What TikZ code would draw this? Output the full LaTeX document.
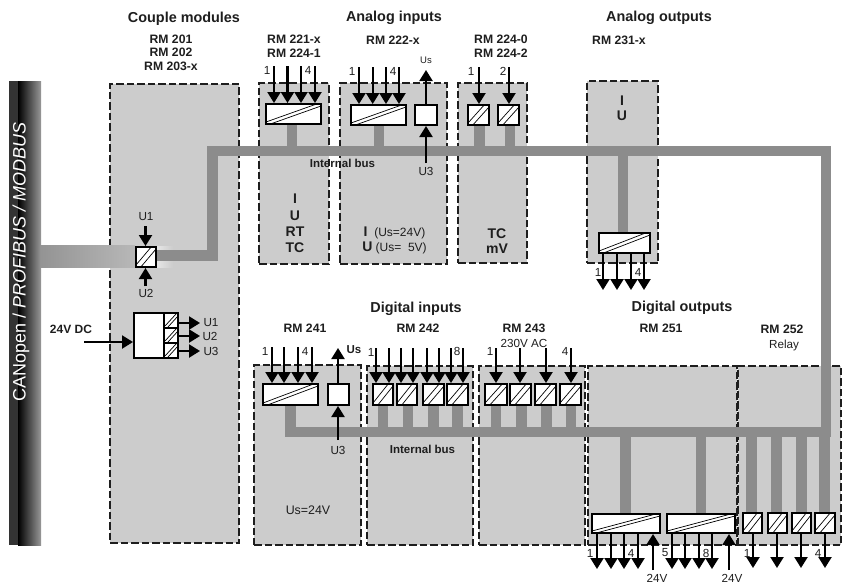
\documentclass[tikz,border=0pt]{standalone}
\usepackage{fontspec}
\setmainfont{Liberation Sans}
\usetikzlibrary{arrows.meta,calc}
\definecolor{panelgray}{HTML}{CCCCCC}
\definecolor{busgray}{HTML}{8C8C8C}
\definecolor{ink}{HTML}{1E1E1E}
\newcounter{lb}
\tikzset{
  x=1pt,y=-1pt,
  panelbox/.style={draw=ink,fill=panelgray,line width=1.1pt,dash pattern=on 7.5pt off 3pt,inner sep=0pt,outer sep=0pt},
  convbox/.style={draw=black,fill=white,line width=2.3pt,inner sep=0pt},
  diag/.style={draw=black,line width=.7pt},
  sig/.style={draw=black,line width=2.2pt,-{Triangle[width=13pt,length=11pt]}},
  busline/.style={draw=busgray,line width=10.5pt,line join=miter},
  stubline/.style={draw=busgray,line width=10.5pt},
  txt/.style={inner sep=0pt,text=ink,align=center,font=\fontsize{12}{14}\selectfont},
  head/.style={txt,font=\bfseries\fontsize{14.4}{16}\selectfont},
  rmtxt/.style={txt,font=\bfseries\fontsize{12.2}{14}\selectfont},
  kind/.style={txt,font=\bfseries\fontsize{14}{16}\selectfont},
  small/.style={txt,font=\fontsize{11.7}{14}\selectfont},
}
\newcommand\lab[4][small]{\stepcounter{lb}\node[#1] (lb\thelb) at (#2,#3) {#4};}
% panel: name x1 y1 x2 y2
\newcommand\panel[5]{\pgfmathsetmacro\pw{#4-#2}\pgfmathsetmacro\ph{#5-#3}%
  \node[panelbox,anchor=north west,minimum width=\pw pt,minimum height=\ph pt] (#1) at (#2,#3) {};}
% plain white box: name x1 y1 x2 y2
\newcommand\pbox[5]{\pgfmathsetmacro\pw{#4-#2-2.3}\pgfmathsetmacro\ph{#5-#3-2.3}%
  \pgfmathsetmacro\px{(#2+#4)/2}\pgfmathsetmacro\py{(#3+#5)/2}%
  \node[convbox,minimum width=\pw pt,minimum height=\ph pt] (#1) at (\px,\py) {};}
% converter box with the double diagonal
\newcommand\conv[5]{\pbox{#1}{#2}{#3}{#4}{#5}%
  \draw[diag] ([xshift=1pt,yshift=3pt]#1.south west) -- ([xshift=-6pt,yshift=-1.2pt]#1.north east);
  \draw[diag] ([xshift=6pt,yshift=1.2pt]#1.south west) -- ([xshift=-1pt,yshift=-3pt]#1.north east);}
% arrow into top of box: x ystart box
\newcommand\sigtop[3]{\stepcounter{lb}\coordinate (c\thelb) at (#1,#2);\draw[sig] (c\thelb) -- (c\thelb |- #3.north);}
\newcommand\sigbot[3]{\stepcounter{lb}\coordinate (c\thelb) at (#1,#2);\draw[sig] (c\thelb) -- (c\thelb |- #3.south);}
\newcommand\sigoutbot[3]{\stepcounter{lb}\coordinate (c\thelb) at (#1,#2);\draw[sig] (c\thelb |- #3.south) -- (c\thelb);}
\newcommand\sigouttop[3]{\stepcounter{lb}\coordinate (c\thelb) at (#1,#2);\draw[sig] (c\thelb |- #3.north) -- (c\thelb);}
% bus stubs: x ybus box
\newcommand\stubbot[3]{\stepcounter{lb}\coordinate (c\thelb) at (#1,#2);\draw[stubline] (c\thelb) -- (c\thelb |- #3.south);}
\newcommand\stubtop[3]{\stepcounter{lb}\coordinate (c\thelb) at (#1,#2);\draw[stubline] (c\thelb) -- (c\thelb |- #3.north);}
\begin{document}
\begin{tikzpicture}
\useasboundingbox (0,0) rectangle (843,584);
% fieldbus bar
\fill[black!80] (9,81) rectangle (18,545);
\shade[left color=black,middle color=black!75,right color=black!40] (18,81) rectangle (41,545);
\node[rotate=90,text=white,inner sep=0pt,font=\fontsize{18}{20}\selectfont] (fieldbus) at (21,262) {CANopen / \textit{PROFIBUS / MODBUS}};
% panels
\panel{couple}{110}{84}{239}{543}
\panel{pa}{259}{83}{329}{264}
\panel{pb}{340}{83}{447}{264}
\panel{pc}{458}{83}{527}{263}
\panel{pd}{587}{81}{658}{263}
\panel{pe}{254}{365}{361}{545}
\panel{pf}{367}{366}{473}{545}
\panel{pg}{479}{366}{585}{545}
\panel{ph}{588}{366}{737}{545}
\panel{pi}{738}{366}{841}{545}
% field side of the coupler
\shade[left color=black!42,right color=black!28] (41,245) rectangle (135,267);
\shade[left color=black!10,right color=panelgray] (157,246) rectangle (173,267);
% converter boxes
\conv{cpl}{135}{246}{157}{268}
\conv{ba}{265}{103}{322}{125}
\conv{bb}{350}{104}{407}{126}
\pbox{bbp}{414}{104}{438}{126}
\conv{bc}{467}{104}{490}{126}
\conv{bd}{497}{104}{520}{126}
\conv{be}{598}{232}{651}{254}
\conv{bf}{262}{383}{319}{406}
\pbox{bfp}{327}{383}{350}{406}
\conv{g1}{372}{383}{394}{406}
\conv{g2}{396}{383}{418}{406}
\conv{g3}{422}{383}{445}{406}
\conv{g4}{446}{383}{469}{406}
\conv{h1}{484}{383}{508}{406}
\conv{h2}{509}{383}{532}{406}
\conv{h3}{534}{383}{557}{406}
\conv{h4}{559}{383}{582}{406}
\conv{j1}{591}{513}{661}{534}
\conv{j2}{666}{513}{736}{534}
\conv{k1}{742}{512}{763}{534}
\conv{k2}{767}{512}{788}{534}
\conv{k3}{791}{512}{812}{534}
\conv{k4}{814}{512}{836}{534}
% internal bus
\coordinate (busy) at (0,255.5);
\coordinate (busstart) at (cpl.east |- busy);
\coordinate (busa) at (212.5,255.5);
\coordinate (busb) at (212.5,151);
\coordinate (busc) at (826,151);
\coordinate (busd) at (826,432);
\coordinate (buse) at (290.5,432);
\draw[busline] (busstart) -- (busa) -- (busb) -- (busc) -- (busd) -- (buse) -- (buse |- bf.south);
\stubbot{292}{151}{ba}
\stubbot{379}{151}{bb}
\stubbot{479.5}{151}{bc}
\stubbot{510}{151}{bd}
\stubtop{623}{151}{be}
\stubbot{383}{432}{g1}
\stubbot{408}{432}{g2}
\stubbot{433.5}{432}{g3}
\stubbot{457.5}{432}{g4}
\stubbot{496}{432}{h1}
\stubbot{521.5}{432}{h2}
\stubbot{546.5}{432}{h3}
\stubbot{571}{432}{h4}
\stubtop{625.5}{432}{j1}
\stubtop{701}{432}{j2}
\stubtop{751.5}{432}{k1}
\stubtop{776.5}{432}{k2}
\stubtop{801.5}{432}{k3}
\stubtop{824.5}{432}{k4}
% coupler
\sigtop{145.5}{226}{cpl}
\sigbot{145.5}{286}{cpl}
\lab{146}{217}{U1}
\lab{146}{293}{U2}
% power supply
\pbox{psu}{133}{312}{179}{359}
\coordinate (psa) at (164,313);
\draw[draw=black,line width=1.6pt] (psa) -- (psa |- psu.south);
\draw[draw=black,line width=1.4pt] (164,328) -- (178,328) (164,343) -- (178,343);
\foreach \ya/\yb in {326/314,341/329,356/344}{
  \draw[diag] (165,\ya) -- (176,\yb);
  \draw[diag] (168,\ya+1) -- (178,\yb+2);
}
\coordinate (dcin) at (84,342);
\draw[sig] (dcin) -- (dcin -| psu.west);
\coordinate (ou1) at (200,323);\coordinate (ou2) at (200,336);\coordinate (ou3) at (200,351);
\draw[sig] (ou1 -| psu.east) -- (ou1);
\draw[sig] (ou2 -| psu.east) -- (ou2);
\draw[sig] (ou3 -| psu.east) -- (ou3);
\lab{211}{323}{U1}\lab{210}{336}{U2}\lab{211}{351}{U3}
\lab[rmtxt]{71}{329}{\fontsize{12}{14}\selectfont 24V DC}
% analog inputs
\foreach \xx in {274,287.5,301,315}{\sigtop{\xx}{66}{ba}}
\foreach \xx in {359,372.7,386,399}{\sigtop{\xx}{67}{bb}}
\sigouttop{426}{70}{bbp}
\sigbot{426}{163}{bbp}
\sigtop{479}{67}{bc}
\sigtop{509}{67}{bd}
\foreach \xx in {603,617,631,644}{\sigoutbot{\xx}{290}{be}}
% digital inputs
\foreach \xx in {272,284,298,312}{\sigtop{\xx}{347}{bf}}
\sigouttop{338}{348}{bfp}
\sigbot{338}{440}{bfp}
\sigtop{376}{348}{g1}\sigtop{389}{348}{g1}\sigtop{401}{348}{g2}\sigtop{413}{348}{g2}
\sigtop{427}{348}{g3}\sigtop{439}{348}{g3}\sigtop{451}{348}{g4}\sigtop{463}{348}{g4}
\sigtop{496}{348}{h1}\sigtop{520}{348}{h2}\sigtop{546}{348}{h3}\sigtop{571}{348}{h4}
% digital outputs
\foreach \xx in {597,611,624,638}{\sigoutbot{\xx}{569}{j1}}
\sigbot{653}{570}{j1}
\foreach \xx in {672,685,699,712}{\sigoutbot{\xx}{569}{j2}}
\sigbot{729}{570}{j2}
\sigoutbot{753}{568}{k1}\sigoutbot{777}{568}{k2}\sigoutbot{801}{568}{k3}\sigoutbot{825}{568}{k4}
% headings
\lab[head]{184}{19}{Couple modules}
\lab[head]{394}{18}{Analog inputs}
\lab[head]{659}{18}{Analog outputs}
\lab[head]{416}{309}{Digital inputs}
\lab[head]{682}{308}{Digital outputs}
% module labels
\lab[rmtxt]{171}{39}{RM 201}
\lab[rmtxt]{171}{52.5}{RM 202}
\lab[rmtxt]{171}{66}{RM 203-x}
\lab[rmtxt]{294}{39}{RM 221-x}
\lab[rmtxt]{294}{53}{RM 224-1}
\lab[rmtxt]{393}{40}{RM 222-x}
\lab[rmtxt]{501}{39}{RM 224-0}
\lab[rmtxt]{501}{53}{RM 224-2}
\lab[rmtxt]{619}{40}{RM 231-x}
\lab[rmtxt]{305}{328}{RM 241}
\lab[rmtxt]{418}{328}{RM 242}
\lab[rmtxt]{524}{328}{RM 243}
\lab[rmtxt]{661}{328}{RM 251}
\lab[rmtxt]{782}{329}{RM 252}
\lab{784}{345}{Relay}
\lab{524}{343}{230V AC}
% numbers
\lab{267}{70}{1}\lab{308}{70}{4}
\lab{352}{71}{1}\lab{393}{71}{4}
\lab{471}{71}{1}\lab{503}{71}{2}
\lab{598}{272}{1}\lab{638}{272}{4}
\lab{265}{351}{1}\lab{305}{351}{4}
\lab{371}{352}{1}\lab{457}{351}{8}
\lab{490}{351}{1}\lab{565}{351}{4}
\lab{590}{553}{1}\lab{631}{553}{4}
\lab{665}{553}{5}\lab{706}{553}{8}
\lab{747}{553}{1}\lab{818}{553}{4}
\lab{657}{578}{24V}\lab{732}{578}{24V}
\lab{426}{60}{\fontsize{9.5}{11}\selectfont Us}
\lab[rmtxt]{354}{350}{\fontsize{11.5}{13}\selectfont Us}
\lab{426}{171}{U3}
\lab{338}{450}{U3}
\lab[rmtxt]{342.5}{163.5}{\fontsize{11.5}{13}\selectfont Internal bus}
\lab[rmtxt]{422.5}{449}{\fontsize{11.5}{13}\selectfont Internal bus}
% contents
\lab[kind]{295}{199}{I}\lab[kind]{295}{216}{U}\lab[kind]{295}{232}{RT}\lab[kind]{295}{248}{TC}
\lab[txt]{394.5}{233}{\textbf{\fontsize{14}{16}\selectfont I}\ \ (Us=24V)}
\lab[txt]{394.5}{248}{\textbf{\fontsize{14}{16}\selectfont U} (Us= \ 5V)}
\lab[kind]{497}{234}{TC}\lab[kind]{497}{249}{mV}
\lab[kind]{622}{101}{I}\lab[kind]{622}{116}{U}
\lab{308}{510}{\fontsize{12.4}{14}\selectfont Us=24V}
\end{tikzpicture}
\end{document}
